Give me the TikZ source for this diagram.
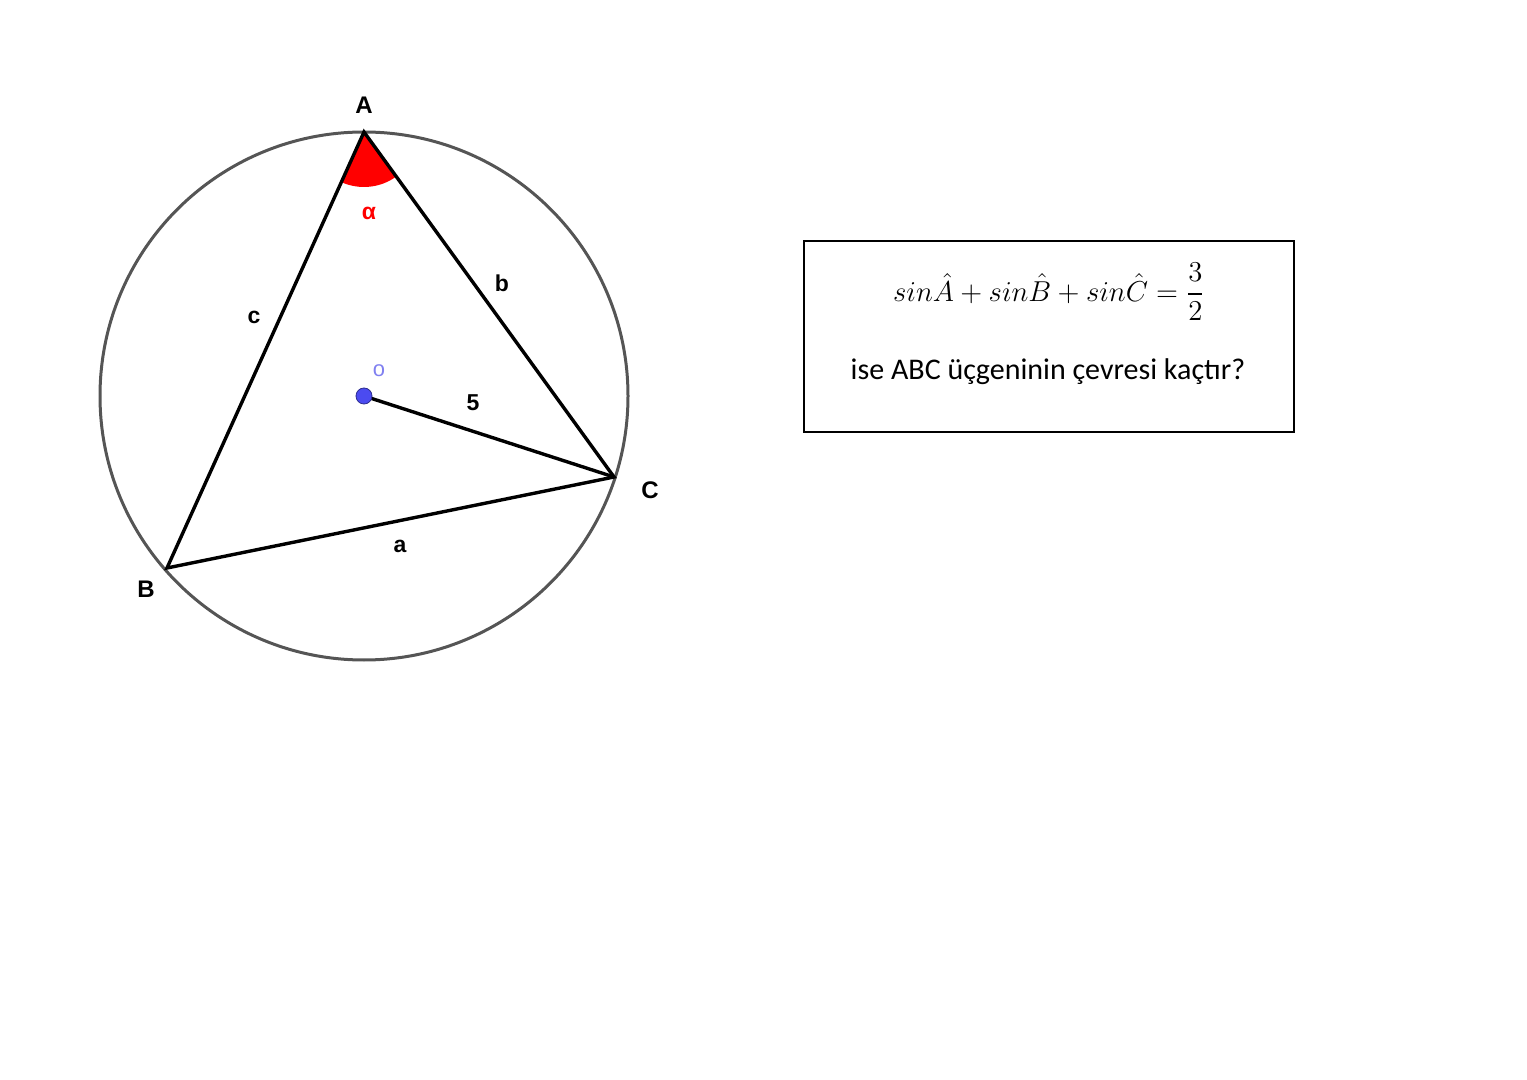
\documentclass[tikz,border=0pt]{standalone}
\usepackage{amsmath}
\usepackage{fontspec}
\setmainfont{Carlito}
\newfontfamily\geofont{Liberation Sans}
\usetikzlibrary{angles,positioning}

\definecolor{circlegray}{HTML}{555555}
\definecolor{dotblue}{HTML}{4B4BF0}
\definecolor{labelblue}{HTML}{8080F0}

\tikzset{
  side/.style = {line width=1.7pt, line cap=round},
  ptlabel/.style = {font=\geofont\bfseries\fontsize{12}{14}\selectfont},
  sidelabel/.style = {font=\geofont\bfseries\fontsize{11.5}{13}\selectfont},
}

\begin{document}
\begin{tikzpicture}[x=0.5pt,y=-0.5pt]
  \useasboundingbox (0,0) rectangle (1527,1080);
  % points of the figure
  \coordinate (O) at (364,396);
  \coordinate (A) at (364,132);
  \coordinate (B) at (167,568);
  \coordinate (C) at (614,477);
  % angle at A
  \pic [fill=red, draw=none, angle radius=27.5pt] {angle = B--A--C};
  % circumcircle
  \draw [circlegray, line width=1.5pt] (O) circle [radius=132pt];
  % triangle and radius
  \draw [side] (A) -- (B) -- (C) -- cycle;
  \draw [side] (O) -- (C);
  \fill [dotblue] (O) circle [radius=4pt];
  \draw [dotblue!60!black, line width=0.4pt] (O) circle [radius=4pt];
  % labels
  \node [ptlabel] (lA) at (364,105) {A};
  \node [ptlabel] (lB) at (146,589) {B};
  \node [ptlabel] (lC) at (650,490) {C};
  \node [font=\geofont\fontsize{11}{13}\selectfont, labelblue] (lO) at (379,371) {o};
  \node [sidelabel, red] (alpha) at (369,213) {α};
  \node [sidelabel] (la) at (400,546) {a};
  \node [sidelabel] (lb) at (502,283) {b};
  \node [sidelabel] (lc) at (254,317) {c};
  \node [sidelabel] (lr) at (473,403) {5};
  % question box
  \node [draw, line width=1.2pt, minimum width=245pt, minimum height=95.5pt] (box) at (1049,336.5) {};
  \node (eq) at (1049,292) {\fontsize{15.5}{18}\selectfont $sin\hat{A}+sin\hat{B}+sin\hat{C}=\dfrac{3}{2}$};
  \node [font=\fontsize{15}{18}\selectfont] (question) at (1048,372) {ise ABC üçgeninin çevresi kaçtır?};
\end{tikzpicture}
\end{document}
